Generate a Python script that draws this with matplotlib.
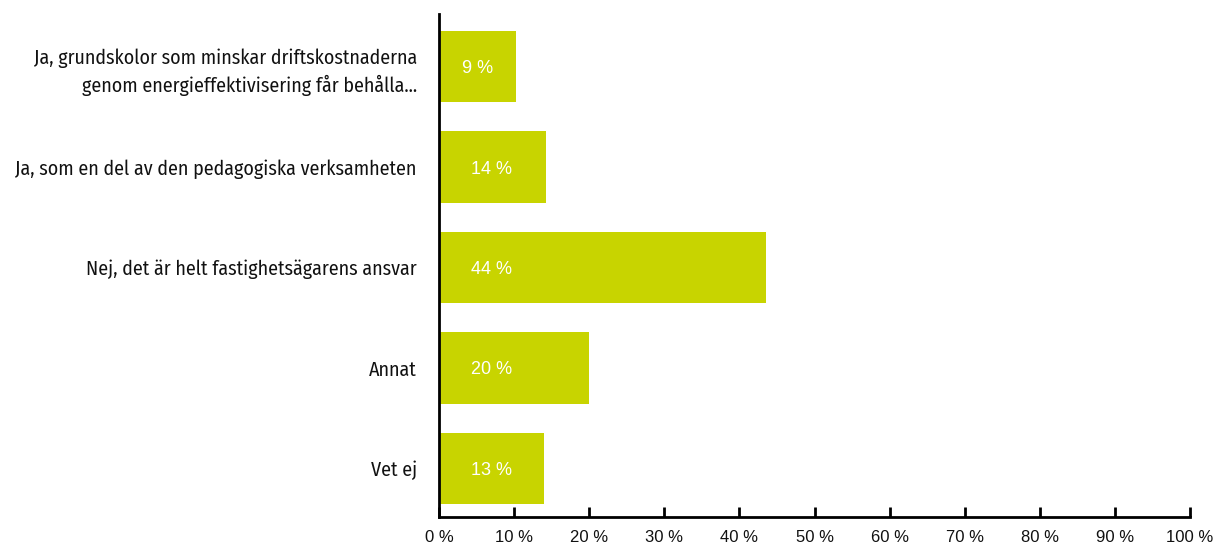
import matplotlib
matplotlib.use("Agg")
import matplotlib.pyplot as plt

categories = [
    "Ja, grundskolor som minskar driftskostnaderna\ngenom energieffektivisering får behålla...",
    "Ja, som en del av den pedagogiska verksamheten",
    "Nej, det är helt fastighetsägarens ansvar",
    "Annat",
    "Vet ej",
]
values = [10.3, 14.2, 43.5, 20.0, 14.0]
value_labels = ["9 %", "14 %", "44 %", "20 %", "13 %"]
xticks = [0, 10, 20, 30, 40, 50, 60, 70, 80, 90, 100]
xtick_labels = ["0 %", "10 %", "20 %", "30 %", "40 %", "50 %", "60 %", "70 %", "80 %", "90 %", "100 %"]

cat_font = ["Fira Sans Condensed", "DejaVu Sans"]
tick_font = ["Liberation Sans", "DejaVu Sans"]

fig = plt.figure(figsize=(12.19, 5.45), dpi=100)
ax = fig.add_axes([439/1219, 1 - 517/545, (1190-439)/1219, (517-14)/545])

ypos = list(range(len(categories)))
ax.barh(ypos, values, height=0.71, color="#c8d400")
for y, v, lab in zip(ypos, values, value_labels):
    ax.text(min(v, 14) / 2, y + 0.02, lab, ha="center", va="center", color="white",
            fontsize=13, family=["Liberation Sans", "DejaVu Sans"])

ax.set_ylim(4.485, -0.525)
ax.set_xlim(0, 100)
ax.set_yticks(ypos)
ax.set_yticklabels(categories, fontsize=14.4, family=cat_font,
                   linespacing=1.4, color="#111111")
ax.set_xticks(xticks)
ax.set_xticklabels(xtick_labels, fontsize=12, family=tick_font, color="#111111")
ax.tick_params(axis="y", length=0, pad=16)
ax.tick_params(axis="x", direction="in", length=7, width=2, pad=9)
for s in ["top", "right"]:
    ax.spines[s].set_visible(False)
ax.spines["left"].set_linewidth(2)
ax.spines["bottom"].set_linewidth(2)

fig.savefig("out.png", dpi=100)
